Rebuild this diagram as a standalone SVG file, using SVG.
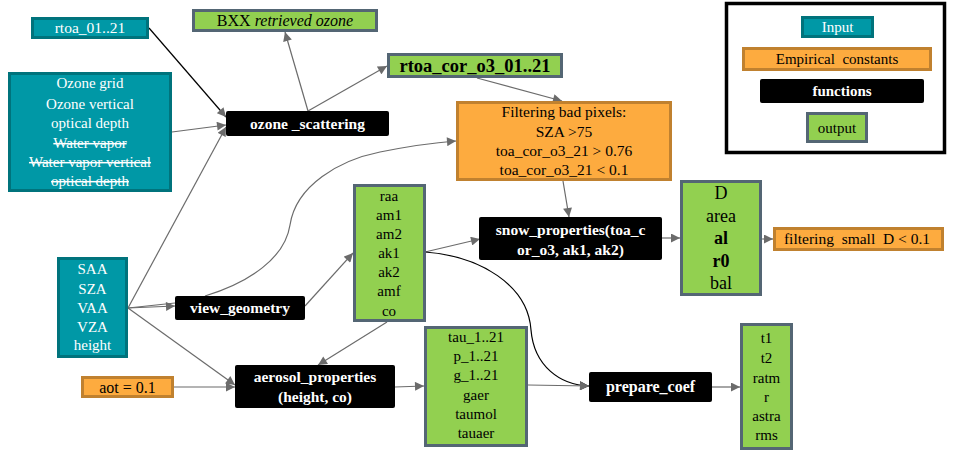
<svg xmlns="http://www.w3.org/2000/svg" width="964" height="471" viewBox="0 0 964 471">
<style>
.inp{fill:#0098a6;stroke:#00737c;stroke-width:3}
.emp{fill:#fdab3f;stroke:#c0812f;stroke-width:3}
.fn{fill:#000;stroke:none}
.out{fill:#92d050;stroke:#546674;stroke-width:3}
text{font-family:"Liberation Serif","Times New Roman",serif;text-anchor:middle}
.tw{fill:#fff;font-size:15px}
.tb{fill:#000;font-size:15px}
.tf{fill:#fff;font-size:15.5px;font-weight:bold}
.st{text-decoration:line-through}
.c{fill:none;stroke:#6b6b6b;stroke-width:1.2}
.k{fill:none;stroke:#000;stroke-width:1.2}
</style>
<defs>
<marker id="ag" viewBox="0 0 10 10" refX="10" refY="5" markerWidth="10" markerHeight="9" markerUnits="userSpaceOnUse" orient="auto"><path d="M0,0 L10,5 L0,10 Z" fill="#6b6b6b"/></marker>
<marker id="ak" viewBox="0 0 10 10" refX="10" refY="5" markerWidth="10" markerHeight="9" markerUnits="userSpaceOnUse" orient="auto"><path d="M0,0 L10,5 L0,10 Z" fill="#000"/></marker>
</defs>
<rect width="964" height="471" fill="#fff"/>

<g id="connectors">
<line class="k" x1="149" y1="28" x2="226" y2="117" marker-end="url(#ag)"/>
<line class="c" x1="172" y1="132" x2="226" y2="125" marker-end="url(#ag)"/>
<line class="c" x1="128" y1="308" x2="226" y2="127" marker-end="url(#ag)"/>
<line class="c" x1="308" y1="111" x2="285" y2="32" marker-end="url(#ag)"/>
<line class="c" x1="308" y1="111" x2="387" y2="66" marker-end="url(#ag)"/>
<line class="c" x1="477" y1="78" x2="562" y2="101" marker-end="url(#ag)"/>
<path class="c" d="M205,296 C250,282 285,258 290,225 C296,185 340,160 380,152 C410,146 430,143 456,141" marker-end="url(#ag)"/>
<line class="c" x1="128" y1="308" x2="175" y2="306" marker-end="url(#ag)"/>
<line class="c" x1="128" y1="308" x2="175" y2="303"/>
<line class="c" x1="128" y1="308" x2="235" y2="385" marker-end="url(#ag)"/>
<line class="c" x1="174" y1="387" x2="235" y2="387" marker-end="url(#ag)"/>
<line class="c" x1="305" y1="306" x2="353" y2="253" marker-end="url(#ag)"/>
<line class="c" x1="387" y1="322" x2="318" y2="365" marker-end="url(#ag)"/>
<line class="c" x1="425" y1="252" x2="480" y2="239" marker-end="url(#ag)"/>
<path class="k" d="M425,252 C480,256 528,285 531,330 C534,366 560,385 589,386" marker-end="url(#ak)"/>
<line class="c" x1="563" y1="181" x2="569" y2="217" marker-end="url(#ag)"/>
<line class="c" x1="662" y1="238" x2="680" y2="238" marker-end="url(#ag)"/>
<line class="c" x1="762" y1="239" x2="773" y2="239" marker-end="url(#ag)"/>
<line class="c" x1="395" y1="387" x2="424" y2="386" marker-end="url(#ag)"/>
<line class="c" x1="528" y1="385" x2="589" y2="386" marker-end="url(#ag)"/>
<line class="c" x1="712" y1="387" x2="740" y2="387" marker-end="url(#ag)"/>
</g>

<g id="rtoa_in">
<rect class="inp" x="32.5" y="18.5" width="115" height="19"/>
<text class="tw" x="90" y="33" style="font-size:15.5px">rtoa_01..21</text>
</g>
<g id="bxx">
<rect class="out" x="193.5" y="10.5" width="183" height="20"/>
<text class="tb" x="285" y="26" style="font-size:16px">BXX <tspan font-style="italic">retrieved ozone</tspan></text>
</g>
<g id="ozone_grid">
<rect class="inp" x="9.5" y="73.5" width="161" height="117"/>
<text class="tw" x="90" y="88">Ozone grid</text>
<text class="tw" x="90" y="109">Ozone vertical</text>
<text class="tw" x="90" y="128">optical depth</text>
<text class="tw st" x="90" y="148">Water vapor</text>
<text class="tw st" x="90" y="167">Water vapor vertical</text>
<text class="tw st" x="90" y="186">optical depth</text>
</g>
<g id="ozone_scattering">
<rect class="fn" x="226" y="111" width="163" height="25" rx="2"/>
<text class="tf" x="307.5" y="129">ozone _scattering</text>
</g>
<g id="rtoa_cor">
<rect class="out" x="388.5" y="54.5" width="173" height="22"/>
<text class="tb" x="475" y="72" style="font-size:18.5px;font-weight:bold">rtoa_cor_o3_01..21</text>
</g>
<g id="filtering_bad">
<rect class="emp" x="457.5" y="102.5" width="213" height="77"/>
<text class="tb" x="564" y="117" style="font-size:15.5px">Filtering  bad pixels:</text>
<text class="tb" x="564" y="137" style="font-size:15.5px">SZA &gt;75</text>
<text class="tb" x="564" y="156" style="font-size:15.5px">toa_cor_o3_21 &gt; 0.76</text>
<text class="tb" x="564" y="175" style="font-size:15.5px">toa_cor_o3_21 &lt; 0.1</text>
</g>
<g id="geom_out">
<rect class="out" x="354.5" y="185.5" width="70" height="135"/>
<text class="tb" x="389" y="201">raa</text>
<text class="tb" x="389" y="220">am1</text>
<text class="tb" x="389" y="239">am2</text>
<text class="tb" x="389" y="258">ak1</text>
<text class="tb" x="389" y="277">ak2</text>
<text class="tb" x="389" y="296">amf</text>
<text class="tb" x="389" y="316">co</text>
</g>
<g id="snow_properties">
<rect class="fn" x="479" y="217" width="183" height="43" rx="2"/>
<text class="tf" x="570.5" y="235">snow_properties(toa_c</text>
<text class="tf" x="570.5" y="255">or_o3, ak1, ak2)</text>
</g>
<g id="snow_out">
<rect class="out" x="681.5" y="181.5" width="79" height="113"/>
<text class="tb" x="721" y="199" style="font-size:18px">D</text>
<text class="tb" x="721" y="222" style="font-size:18px">area</text>
<text class="tb" x="721" y="244" style="font-size:18px;font-weight:bold">al</text>
<text class="tb" x="721" y="267" style="font-size:18px;font-weight:bold">r0</text>
<text class="tb" x="721" y="289" style="font-size:18px">bal</text>
</g>
<g id="filtering_small">
<rect class="emp" x="774.5" y="228.5" width="168" height="21"/>
<text class="tb" x="857" y="244" style="font-size:15.5px">filtering&#160; small&#160; D &lt; 0.1</text>
</g>
<g id="angles">
<rect class="inp" x="58.5" y="258.5" width="68" height="98"/>
<text class="tw" x="92.5" y="274">SAA</text>
<text class="tw" x="92.5" y="294">SZA</text>
<text class="tw" x="92.5" y="313">VAA</text>
<text class="tw" x="92.5" y="332">VZA</text>
<text class="tw" x="92.5" y="350">height</text>
</g>
<g id="view_geometry">
<rect class="fn" x="175" y="296" width="130" height="24" rx="2"/>
<text class="tf" x="240" y="313">view_geometry</text>
</g>
<g id="aot">
<rect class="emp" x="82.5" y="377.5" width="90" height="19"/>
<text class="tb" x="127.5" y="393" style="font-size:16px">aot = 0.1</text>
</g>
<g id="aerosol_properties">
<rect class="fn" x="235" y="365" width="160" height="43" rx="2"/>
<text class="tf" x="315" y="382">aerosol_properties</text>
<text class="tf" x="315" y="402">(height, co)</text>
</g>
<g id="aerosol_out">
<rect class="out" x="425.5" y="327.5" width="101" height="118"/>
<text class="tb" x="476" y="342">tau_1..21</text>
<text class="tb" x="476" y="361">p_1..21</text>
<text class="tb" x="476" y="380">g_1..21</text>
<text class="tb" x="476" y="400">gaer</text>
<text class="tb" x="476" y="419">taumol</text>
<text class="tb" x="476" y="438">tauaer</text>
</g>
<g id="prepare_coef">
<rect class="fn" x="589" y="372" width="123" height="30" rx="2"/>
<text class="tf" x="650.5" y="392" style="font-size:16px">prepare_coef</text>
</g>
<g id="coef_out">
<rect class="out" x="741.5" y="324.5" width="50" height="124"/>
<text class="tb" x="766.5" y="343">t1</text>
<text class="tb" x="766.5" y="363">t2</text>
<text class="tb" x="766.5" y="383">ratm</text>
<text class="tb" x="766.5" y="402">r</text>
<text class="tb" x="766.5" y="421">astra</text>
<text class="tb" x="766.5" y="440">rms</text>
</g>
<g id="legend">
<rect x="726.5" y="3.5" width="218" height="149" fill="#fff" stroke="#000" stroke-width="3.5"/>
<g id="legend_input">
<rect class="inp" x="802.5" y="17.5" width="70" height="19"/>
<text class="tw" x="837.5" y="32">Input</text>
</g>
<g id="legend_emp">
<rect class="emp" x="743.5" y="48.5" width="187" height="21"/>
<text class="tb" x="837" y="64">Empirical&#160; constants</text>
</g>
<g id="legend_fn">
<rect class="fn" x="760" y="79" width="164" height="24" rx="2"/>
<text class="tf" x="842" y="96" style="font-size:15px">functions</text>
</g>
<g id="legend_out">
<rect class="out" x="807.5" y="113.5" width="59" height="28"/>
<text class="tb" x="837" y="133">output</text>
</g>
</g>
</svg>
